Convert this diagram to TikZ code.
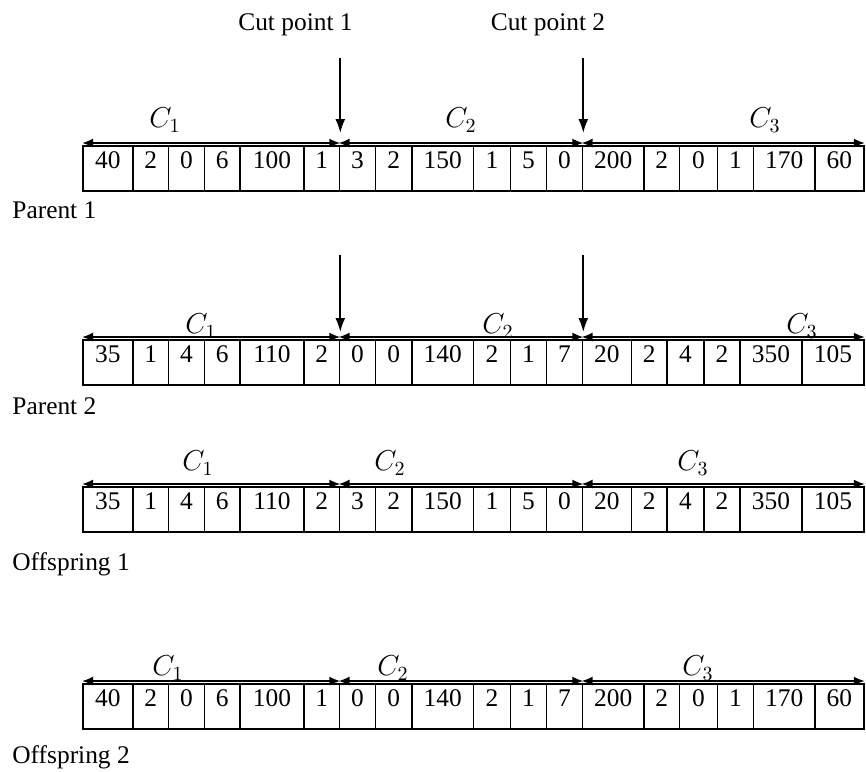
\documentclass[tikz,border=0pt]{standalone}
\usepackage{fontspec}
\setmainfont{Liberation Serif}
\usetikzlibrary{arrows.meta,positioning,calc}

\begin{document}
\begin{tikzpicture}[x=0.5pt, y=-0.5pt, font=\fontsize{12.7}{15}\selectfont]
    \tikzstyle{cell} = [draw, line width=0.9pt, rectangle, inner sep=0pt, anchor=north west, minimum height=22.5pt, text height=11.5pt, text depth=11pt]
    \tikzstyle{span} = [{Latex[length=5.5pt,width=4.5pt]}-{Latex[length=5.5pt,width=4.5pt]}, line width=0.9pt]
    \tikzstyle{cut} = [-{Latex[length=7pt,width=5pt]}, line width=0.9pt]
    \tikzstyle{rowlabel} = [anchor=west, inner sep=0pt]
    \tikzstyle{chrom} = [font=\fontsize{14}{16}\selectfont]

    \useasboundingbox (0,0) rectangle (866,771);

    % Cells
    \foreach \l/\r/\v [count=\i] in {82/132/40, 132/167.5/2, 167.5/203.5/0, 203.5/239/6, 239/303/100, 303/338.5/1,
        338.5/374.5/3, 374.5/411/2, 411/472.5/150, 472.5/509.5/1, 509.5/545.5/5, 545.5/581.5/0,
        581.5/643/200, 643/678.5/2, 678.5/716.5/0, 716.5/752.5/1, 752.5/814/170, 814/863/60} {
        \pgfmathsetmacro\w{(\r-\l)*0.5}
        \node [cell, minimum width=\w pt] (pa\i) at (\l,145) {\v};
    }
    \foreach \l/\r/\v [count=\i] in {82/132/35, 132/167.5/1, 167.5/203.5/4, 203.5/239/6, 239/303/110, 303/338.5/2,
        338.5/374.5/0, 374.5/411/0, 411/472.5/140, 472.5/509.5/2, 509.5/545.5/1, 545.5/581.5/7,
        581.5/630.5/20, 630.5/666/2, 666/703/4, 703/739/2, 739/801/350, 801/863/105} {
        \pgfmathsetmacro\w{(\r-\l)*0.5}
        \node [cell, minimum width=\w pt] (pb\i) at (\l,339) {\v};
    }
    \foreach \l/\r/\v [count=\i] in {82/132/35, 132/167.5/1, 167.5/203.5/4, 203.5/239/6, 239/303/110, 303/338.5/2,
        338.5/374.5/3, 374.5/411/2, 411/472.5/150, 472.5/509.5/1, 509.5/545.5/5, 545.5/581.5/0,
        581.5/630.5/20, 630.5/666/2, 666/703/4, 703/739/2, 739/801/350, 801/863/105} {
        \pgfmathsetmacro\w{(\r-\l)*0.5}
        \node [cell, minimum width=\w pt] (oa\i) at (\l,486) {\v};
    }
    \foreach \l/\r/\v [count=\i] in {82/132/40, 132/167.5/2, 167.5/203.5/0, 203.5/239/6, 239/303/100, 303/338.5/1,
        338.5/374.5/0, 374.5/411/0, 411/472.5/140, 472.5/509.5/2, 509.5/545.5/1, 545.5/581.5/7,
        581.5/643/200, 643/678.5/2, 678.5/716.5/0, 716.5/752.5/1, 752.5/814/170, 814/863/60} {
        \pgfmathsetmacro\w{(\r-\l)*0.5}
        \node [cell, minimum width=\w pt] (ob\i) at (\l,683) {\v};
    }

    % Labels
    \node (cut1) at (295.5,25) {Cut point 1};
    \node (cut2) at (548,25) {Cut point 2};
    \node [rowlabel] (parent1) at (12,210) {Parent 1};
    \node [rowlabel] (parent2) at (12,406) {Parent 2};
    \node [rowlabel] (offspring1) at (12,564) {Offspring 1};
    \node [rowlabel] (offspring2) at (12,757) {Offspring 2};

    \node [chrom] (pac1) at (165,120) {$C_1$};
    \node [chrom] (pac2) at (461,120) {$C_2$};
    \node [chrom] (pac3) at (765,120) {$C_3$};
    \node [chrom] (pbc1) at (201,326) {$C_1$};
    \node [chrom] (pbc2) at (498,326) {$C_2$};
    \node [chrom] (pbc3) at (802,326) {$C_3$};
    \node [chrom] (oac1) at (198,463) {$C_1$};
    \node [chrom] (oac2) at (390,463) {$C_2$};
    \node [chrom] (oac3) at (693,463) {$C_3$};
    \node [chrom] (obc1) at (168,668) {$C_1$};
    \node [chrom] (obc2) at (393,668) {$C_2$};
    \node [chrom] (obc3) at (698,668) {$C_3$};

    % Cut arrows
    \coordinate [above=6pt of pa6.north east] (cut1a);
    \coordinate [above=37.5pt of cut1a] (cut1s);
    \coordinate [above=6pt of pa12.north east] (cut2a);
    \coordinate [above=37.5pt of cut2a] (cut2s);
    \coordinate [above=3.5pt of pb6.north east] (cut1b);
    \coordinate [above=38.5pt of cut1b] (cut1t);
    \coordinate [above=3.5pt of pb12.north east] (cut2b);
    \coordinate [above=38.5pt of cut2b] (cut2t);
    \draw [cut] (cut1s) -- (cut1a);
    \draw [cut] (cut2s) -- (cut2a);
    \draw [cut] (cut1t) -- (cut1b);
    \draw [cut] (cut2t) -- (cut2b);

    % Spans
    \foreach \row in {pa,pb,oa,ob} {
        \draw [span] ($(\row1.north west)+(0,-2)$) -- ($(\row6.north east)+(0,-2)$);
        \draw [span] ($(\row7.north west)+(0,-2)$) -- ($(\row12.north east)+(0,-2)$);
        \draw [span] ($(\row13.north west)+(0,-2)$) -- ($(\row18.north east)+(0,-2)$);
    }
\end{tikzpicture}
\end{document}
